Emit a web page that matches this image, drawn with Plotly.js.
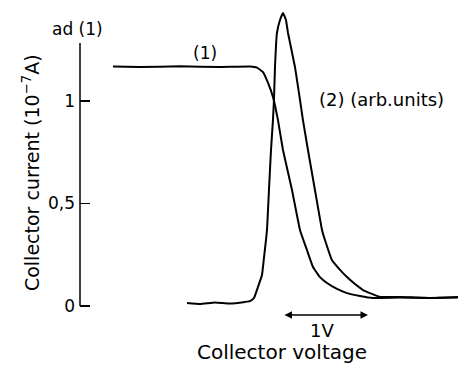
<!DOCTYPE html>
<html>
<head>
<meta charset="utf-8">
<script src="https://cdn.plot.ly/plotly-3.0.1.min.js"></script>
<style>html,body{margin:0;padding:0;background:#fff;}#chart{width:459px;height:365px;}</style>
</head>
<body>
<div id="chart"></div>
<script>
// Curve (1): collector current (10^-7 A) vs collector voltage (V)
const voltage1 = [0, 0.318, 0.788, 1.259, 1.612, 1.694, 1.765, 1.824, 1.882, 1.941, 2.000, 2.106, 2.200, 2.282, 2.353, 2.435, 2.518, 2.635, 2.753, 2.906, 3.059, 3.376, 3.729, 4.059];
const current1 = [1.168, 1.166, 1.169, 1.166, 1.168, 1.163, 1.141, 1.088, 1.020, 0.907, 0.761, 0.566, 0.371, 0.273, 0.190, 0.141, 0.112, 0.083, 0.063, 0.049, 0.039, 0.041, 0.039, 0.041];

// Curve (2): derivative (arb. units)
const voltage2 = [0.871, 1.024, 1.200, 1.376, 1.553, 1.612, 1.659, 1.706, 1.753, 1.776, 1.800, 1.812, 1.835, 1.859, 1.882, 1.894, 1.906, 1.929, 1.965, 2.000, 2.035, 2.059, 2.141, 2.200, 2.235, 2.294, 2.376, 2.459, 2.494, 2.576, 2.671, 2.753, 2.847, 2.941, 3.047, 3.141, 3.376, 3.729, 4.059];
const signal2 = [0.015, 0.010, 0.017, 0.012, 0.020, 0.024, 0.039, 0.093, 0.151, 0.234, 0.322, 0.371, 0.566, 0.761, 0.907, 1.005, 1.166, 1.332, 1.395, 1.429, 1.395, 1.332, 1.166, 1.005, 0.907, 0.761, 0.566, 0.371, 0.322, 0.224, 0.176, 0.141, 0.107, 0.078, 0.059, 0.044, 0.044, 0.039, 0.044];

const yTickVals = [0, 0.5, 1];
const yTickText = ['0', '0,5', '1'];
const scaleBar = [2.0, 3.0]; // 1 V

const FONT = 'DejaVu Sans';

const traces = [
  {x: voltage1, y: current1, mode: 'lines', line: {color: '#000', width: 2, shape: 'spline', smoothing: 0.3}, hoverinfo: 'skip'},
  {x: voltage2, y: signal2, mode: 'lines', line: {color: '#000', width: 2, shape: 'spline', smoothing: 0.3}, hoverinfo: 'skip'}
];

const layout = {
  width: 459, height: 365,
  margin: {l: 80, r: 1, t: 10, b: 45},
  paper_bgcolor: '#fff', plot_bgcolor: '#fff',
  showlegend: false,
  font: {family: FONT, color: '#000', size: 17},
  xaxis: {range: [-0.388, 4.059], visible: false, fixedrange: true},
  yaxis: {
    range: [-0.0683, 1.4439],
    tickvals: yTickVals, ticktext: yTickText,
    ticks: 'inside', ticklen: 10, tickwidth: 1.5, tickcolor: '#000',
    showline: false, zeroline: false, showgrid: false,
    tickfont: {family: FONT, size: 17, color: '#000'},
    ticklabelstandoff: 4,
    fixedrange: true
  },
  shapes: [
    {type: 'line', xref: 'paper', yref: 'y', x0: 0, x1: 0, y0: 0, y1: 1.283, line: {color: '#000', width: 1.5}}
  ],
  annotations: [
    {xref: 'paper', yref: 'paper', x: -0.0079, y: 0.9387, text: 'ad (1)', showarrow: false, xanchor: 'center', yanchor: 'middle', font: {size: 17}},
    {xref: 'paper', yref: 'paper', x: -0.1296, y: 0.474, text: 'Collector current (10<sup>−7</sup>A)', textangle: -90, showarrow: false, xanchor: 'center', yanchor: 'middle', font: {size: 19}},
    {xref: 'x', yref: 'y', x: 1.082, y: 1.234, text: '(1)', showarrow: false, xanchor: 'center', yanchor: 'middle', font: {size: 17}},
    {xref: 'x', yref: 'y', x: 2.4, y: 1.005, text: '(2) (arb.units)', showarrow: false, xanchor: 'left', yanchor: 'middle', font: {size: 18}},
    {xref: 'x', yref: 'y', x: scaleBar[1], y: -0.044, axref: 'x', ayref: 'y', ax: scaleBar[0], ay: -0.044, text: '', showarrow: true, arrowside: 'end+start', arrowhead: 2, arrowsize: 1, arrowwidth: 1.5, arrowcolor: '#000'},
    {xref: 'paper', yref: 'paper', x: 0.640, y: -0.0323, text: '1V', showarrow: false, xanchor: 'center', yanchor: 'middle', font: {size: 18}},
    {xref: 'paper', yref: 'paper', x: 0.534, y: -0.1032, text: 'Collector voltage', showarrow: false, xanchor: 'center', yanchor: 'middle', font: {size: 20}}
  ]
};

Plotly.newPlot('chart', traces, layout, {staticPlot: true, displayModeBar: false});
</script>
</body>
</html>
